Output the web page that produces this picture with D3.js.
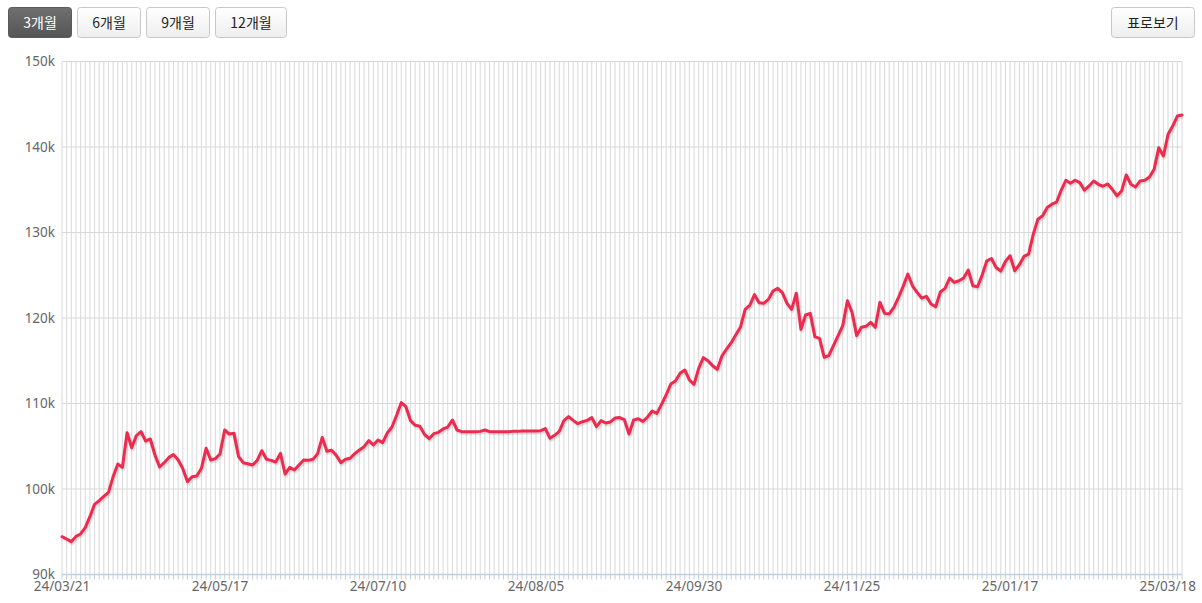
<!DOCTYPE html>
<html>
<head>
<meta charset="utf-8">
<script src="https://cdn.jsdelivr.net/npm/d3@7"></script>
<style>
  html, body { margin: 0; padding: 0; background: #fff; }
  svg { display: block; }
</style>
</head>
<body>
<svg id="chart" width="1202" height="603"></svg>
<script>
// ---- data ----
const periodButtons = ["3개월", "6개월", "9개월", "12개월"];
const selectedPeriod = "3개월";
const tableButton = "표로보기";

const yTicks = [90000, 100000, 110000, 120000, 130000, 140000, 150000];

const tickPositions = [0, 34, 68, 102, 136, 170, 204, 241];
const tickLabels = ["24/03/21", "24/05/17", "24/07/10", "24/08/05", "24/09/30", "24/11/25", "25/01/17", "25/03/18"];

// values in thousands (k)
const values = [
  94.42, 94.15, 93.84, 94.46, 94.74, 95.48, 96.76, 98.21, 98.64, 99.14,
  99.61, 101.44, 102.92, 102.53, 106.59, 104.83, 106.24, 106.71, 105.61, 105.85,
  103.98, 102.57, 103.08, 103.70, 104.02, 103.39, 102.38, 100.86, 101.44, 101.52,
  102.42, 104.76, 103.39, 103.55, 104.09, 106.90, 106.43, 106.51, 103.78, 103.08,
  102.96, 102.81, 103.35, 104.48, 103.47, 103.35, 103.16, 104.17, 101.75, 102.53,
  102.22, 102.81, 103.39, 103.35, 103.47, 104.13, 106.04, 104.41, 104.53, 103.94,
  103.08, 103.47, 103.59, 104.13, 104.56, 104.95, 105.65, 105.15, 105.73, 105.42,
  106.55, 107.25, 108.62, 110.10, 109.63, 107.99, 107.45, 107.33, 106.39, 105.89,
  106.47, 106.63, 107.02, 107.25, 108.07, 106.90, 106.71, 106.71, 106.71, 106.71,
  106.74, 106.90, 106.71, 106.71, 106.71, 106.71, 106.71, 106.74, 106.74, 106.78,
  106.78, 106.78, 106.78, 106.82, 107.06, 105.93, 106.28, 106.74, 107.99, 108.46,
  108.03, 107.64, 107.87, 108.03, 108.35, 107.29, 107.99, 107.72, 107.84, 108.30,
  108.35, 108.11, 106.43, 108.07, 108.22, 107.91, 108.42, 109.12, 108.85, 109.90,
  110.99, 112.28, 112.63, 113.53, 113.92, 112.75, 112.24, 114.11, 115.36, 115.01,
  114.42, 114.00, 115.56, 116.37, 117.11, 118.05, 118.95, 121.01, 121.48, 122.73,
  121.79, 121.72, 122.18, 123.16, 123.47, 122.96, 121.72, 121.01, 122.89, 118.67,
  120.35, 120.54, 117.82, 117.62, 115.41, 115.60, 116.77, 117.94, 119.11, 122.02,
  120.66, 117.94, 118.91, 119.03, 119.49, 118.91, 121.83, 120.54, 120.47, 121.25,
  122.41, 123.70, 125.14, 123.77, 123.00, 122.33, 122.53, 121.63, 121.32, 123.04,
  123.46, 124.67, 124.16, 124.36, 124.67, 125.60, 123.77, 123.66, 125.02, 126.69,
  126.96, 125.91, 125.49, 126.61, 127.28, 125.53, 126.23, 127.20, 127.47, 129.81,
  131.56, 131.95, 132.92, 133.31, 133.54, 134.94, 136.11, 135.76, 136.11, 135.84,
  134.94, 135.45, 136.03, 135.64, 135.41, 135.68, 135.06, 134.28, 134.86, 136.73,
  135.64, 135.33, 136.03, 136.11, 136.50, 137.39, 139.92, 138.95, 141.48, 142.45,
  143.62, 143.74
];

// ---- drawing ----
const W = 1202, H = 603;
const svg = d3.select("#chart");
const plot = { left: 62, right: 1182, top: 61.5, bottom: 574.5 };
const points = values.map((v, i) => ({ i, v: v * 1000 }));

const x = d3.scaleLinear().domain([0, values.length - 1]).range([plot.left, plot.right]);
const y = d3.scaleLinear().domain([d3.min(yTicks), d3.max(yTicks)]).range([plot.bottom, plot.top]);

const defs = svg.append("defs");
const gDark = defs.append("linearGradient").attr("id", "btnDark").attr("x1", 0).attr("y1", 0).attr("x2", 0).attr("y2", 1);
gDark.append("stop").attr("offset", "0%").attr("stop-color", "#707070");
gDark.append("stop").attr("offset", "100%").attr("stop-color", "#555555");
const gLight = defs.append("linearGradient").attr("id", "btnLight").attr("x1", 0).attr("y1", 0).attr("x2", 0).attr("y2", 1);
gLight.append("stop").attr("offset", "0%").attr("stop-color", "#ffffff");
gLight.append("stop").attr("offset", "100%").attr("stop-color", "#eeeeee");

// vertical grid lines (one per point)
svg.append("g").selectAll("line").data(points).join("line")
  .attr("x1", d => x(d.i)).attr("x2", d => x(d.i))
  .attr("y1", plot.top).attr("y2", plot.bottom)
  .attr("stroke", "#dcdcdc").attr("stroke-width", 1.1);

// horizontal grid lines
svg.append("g").selectAll("line").data(yTicks).join("line")
  .attr("x1", plot.left).attr("x2", plot.right)
  .attr("y1", d => y(d)).attr("y2", d => y(d))
  .attr("stroke", "#d8d8d8").attr("stroke-width", 1);

// y labels
svg.append("g").selectAll("text").data(yTicks).join("text")
  .attr("x", plot.left - 7).attr("y", d => y(d)).attr("dy", "0.36em")
  .attr("text-anchor", "end")
  .attr("font-family", "'Noto Sans', 'Open Sans', sans-serif").attr("font-size", 13.5)
  .attr("fill", "#666")
  .text(d => (d / 1000) + "k");

// x axis line and ticks
svg.append("line")
  .attr("x1", plot.left).attr("x2", plot.right)
  .attr("y1", plot.bottom).attr("y2", plot.bottom)
  .attr("stroke", "#c0d0e0").attr("stroke-width", 1.5);
svg.append("g").selectAll("line").data(points).join("line")
  .attr("x1", d => x(d.i)).attr("x2", d => x(d.i))
  .attr("y1", plot.bottom).attr("y2", plot.bottom + 5)
  .attr("stroke", "#c0d0e0").attr("stroke-width", 1);

// x labels
const xl = svg.append("g").selectAll("text").data(tickPositions).join("text")
  .attr("x", d => x(d)).attr("y", 591)
  .attr("text-anchor", "middle")
  .attr("font-family", "'Noto Sans', 'Open Sans', sans-serif").attr("font-size", 13.5)
  .attr("fill", "#666")
  .text((d, k) => tickLabels[k]);
xl.each(function(d) {
  const w = this.getComputedTextLength();
  const cx = x(d);
  if (cx + w / 2 > W - 6) d3.select(this).attr("x", W - 6 - w / 2);
  if (cx - w / 2 < 2) d3.select(this).attr("x", 2 + w / 2);
});

// line with soft shadow
const line = d3.line().x(d => x(d.i)).y(d => y(d.v)).curve(d3.curveLinear);
[[5, 0.05], [3, 0.08]].forEach(([sw, op]) => {
  svg.append("path").datum(points)
    .attr("d", line).attr("fill", "none")
    .attr("stroke", `rgba(0,0,0,${op})`).attr("stroke-width", sw)
    .attr("stroke-linejoin", "round")
    .attr("transform", "translate(1,1.5)");
});
svg.append("path").datum(points)
  .attr("d", line).attr("fill", "none")
  .attr("stroke", "#ee2a4f").attr("stroke-width", 3)
  .attr("stroke-linejoin", "round").attr("stroke-linecap", "round");

// buttons
const btnFont = "'Noto Sans CJK KR', 'Noto Sans', sans-serif";
const btnG = svg.append("g");
let bx = 8.5;
const btnWidths = [63, 63, 63, 71];
periodButtons.forEach((label, k) => {
  const w = btnWidths[k];
  const sel = label === selectedPeriod;
  const g = btnG.append("g").attr("transform", `translate(${bx},7.5)`);
  g.append("rect").attr("width", w).attr("height", 30).attr("rx", 3)
    .attr("fill", sel ? "url(#btnDark)" : "url(#btnLight)")
    .attr("stroke", sel ? "#5a5a5a" : "#c8c8c8").attr("stroke-width", 1);
  g.append("text").attr("x", w / 2).attr("y", 15).attr("dy", "0.36em")
    .attr("text-anchor", "middle").attr("font-family", btnFont).attr("font-size", 14)
    .attr("fill", sel ? "#fff" : "#222").text(label);
  bx += w + 6;
});
const tg = btnG.append("g").attr("transform", `translate(${1111.5},7.5)`);
tg.append("rect").attr("width", 83).attr("height", 30).attr("rx", 3)
  .attr("fill", "url(#btnLight)").attr("stroke", "#c8c8c8");
tg.append("text").attr("x", 41.5).attr("y", 15).attr("dy", "0.36em")
  .attr("text-anchor", "middle").attr("font-family", btnFont).attr("font-size", 14)
  .attr("fill", "#222").text(tableButton);
</script>
</body>
</html>
